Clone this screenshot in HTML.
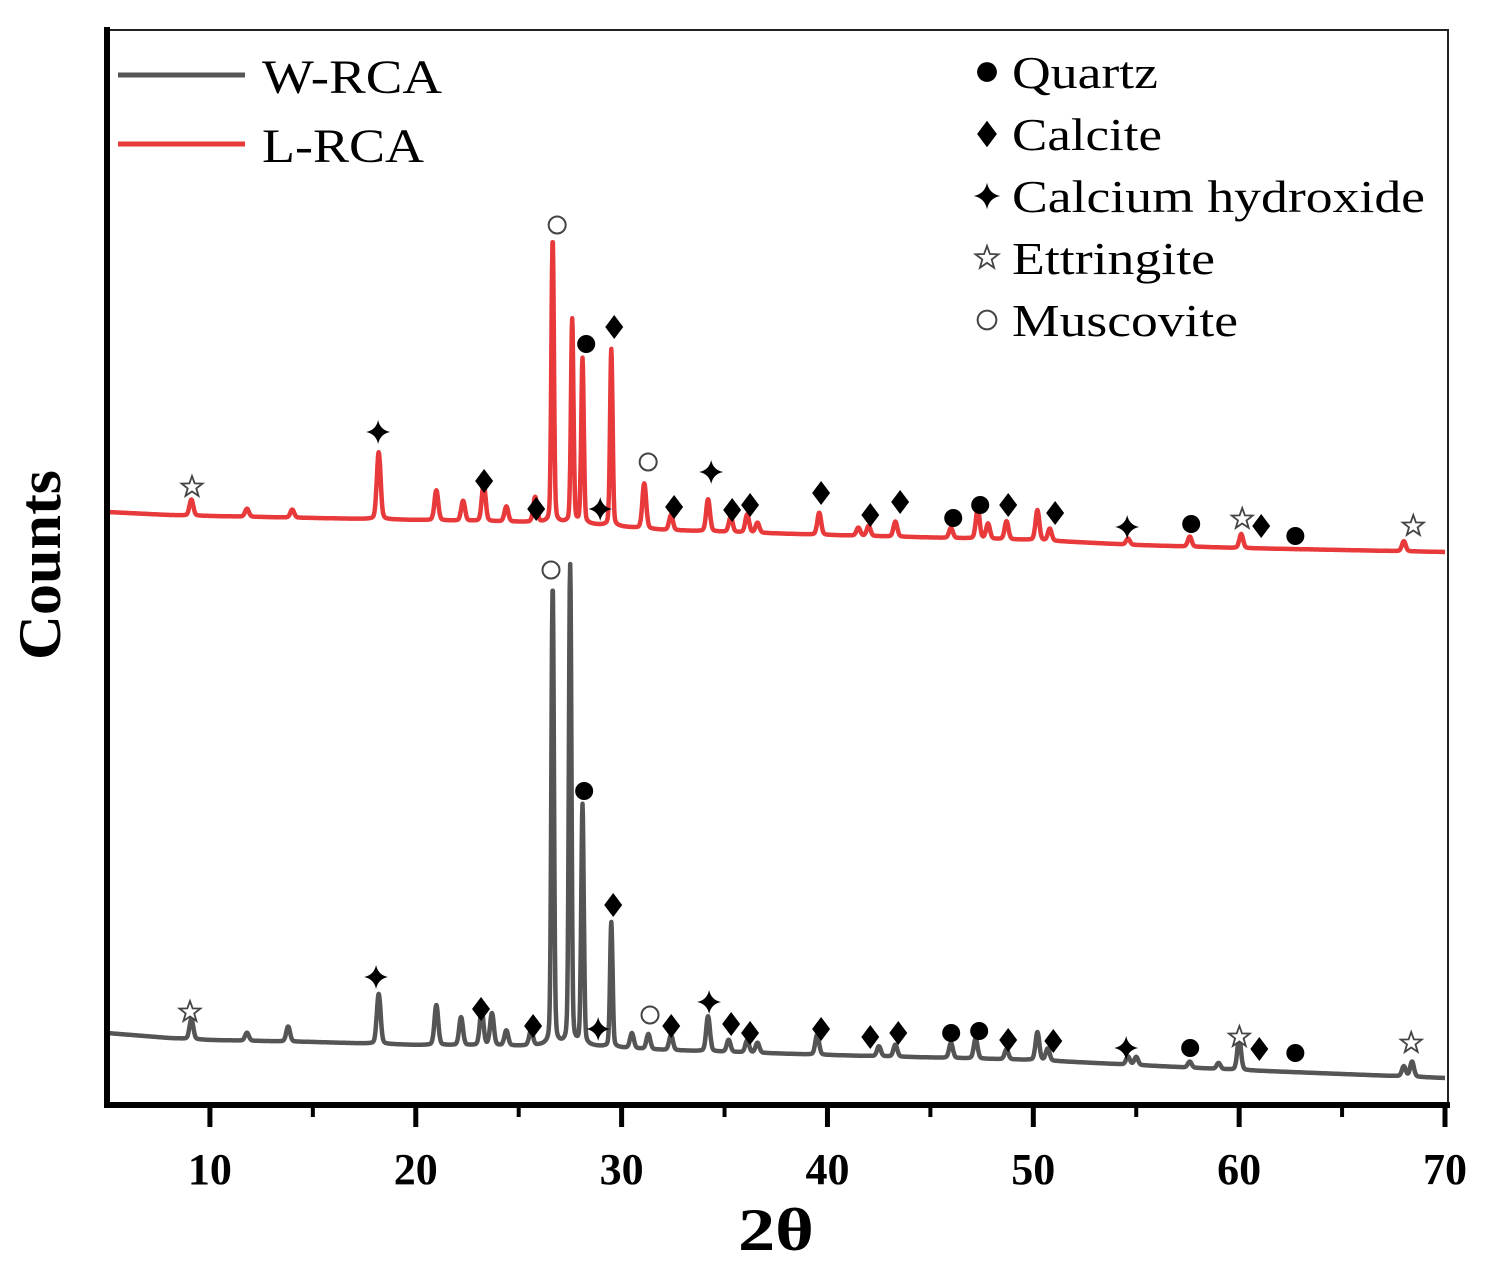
<!DOCTYPE html>
<html><head><meta charset="utf-8"><style>
html,body{margin:0;padding:0;background:#fff;}
svg{display:block;font-family:"Liberation Serif",serif;}
</style></head><body>
<svg id="chart" width="1486" height="1271" viewBox="0 0 1486 1271" xmlns="http://www.w3.org/2000/svg">
<g id="plot"></g>
<g id="marks"></g>
<g id="axes"></g>
<g>
 <line x1="118" y1="75" x2="245" y2="75" stroke="#555" stroke-width="5"/>
 <text x="262" y="93" font-size="48" textLength="180" lengthAdjust="spacingAndGlyphs">W-RCA</text>
 <line x1="118" y1="144" x2="245" y2="144" stroke="#e8393b" stroke-width="5"/>
 <text x="262" y="162" font-size="48" textLength="162" lengthAdjust="spacingAndGlyphs">L-RCA</text>
</g>
<g id="plegend"></g>
<text transform="translate(60,565) rotate(-90)" text-anchor="middle" font-size="60" font-weight="bold" textLength="190" lengthAdjust="spacingAndGlyphs">Counts</text>
<text x="776" y="1250" text-anchor="middle" font-size="60" font-weight="bold" textLength="76" lengthAdjust="spacingAndGlyphs">2θ</text>
</svg>
<script>
const xTicks=[10,20,30,40,50,60,70];
const minorTicks=[15,25,35,45,55,65];
const redBaseX=[5,8,10,15,20,25,28,32,40,50,55,60,70];
const redBaseC=[593,590,589,587,585,583,581,575,570,565,560,557,553];
const grayBaseX=[5,8,10,15,20,25,28,32,40,50,55,60,70];
const grayBaseC=[72,67,65,63,60,59,59,55,50,45,40,35,27];
const redPeakX=[9.1,11.8,14,18.2,21,22.3,23.3,24.4,25.8,26.65,27.6,28.1,29.5,31.1,32.4,34.2,35.3,36.1,36.6,39.6,41.5,42,43.3,46,47.3,47.8,48.7,50.2,50.8,54.6,57.6,60.1,68];
const redPeakH=[16,8,8,67,30,20,38,15,25,284,204,165,177,45,15,32,15,18,10,22,8,10,15,10,30,15,18,30,12,6,10,14,10];
const grayPeakX=[9.1,11.8,13.8,18.2,21,22.2,23.2,23.7,24.4,25.6,26.65,27.5,28.1,29.5,30.5,31.3,32.4,34.2,35.2,36.1,36.6,39.5,42.5,43.3,46,47.2,48.7,50.2,50.7,54.6,55,57.6,59,60,68,68.4];
const grayPeakH=[20,8,15,50,40,28,35,32,15,15,460,480,240,125,15,15,15,35,12,12,10,20,10,12,15,20,10,28,12,8,8,6,6,32,10,15];
const redMarkType=["star","cross","diamond","diamond","ocircle","diamond","circle","cross","ocircle","diamond","cross","diamond","diamond","diamond","diamond","diamond","circle","circle","diamond","diamond","cross","circle","star","diamond","circle","star"];
const redMarkX=[9.13,18.17,23.32,25.85,26.87,29.64,28.28,28.96,31.29,32.55,34.35,35.37,36.24,39.69,42.08,43.53,46.11,47.42,48.78,51.06,54.56,57.67,60.15,61.07,62.73,68.46];
const redMarkC=[618,673,624,596,880,778,761,596,643,598,633,595,600,612,590,603,587,600,600,592,578,581,586,579,569,579];
const grayMarkType=["star","cross","diamond","diamond","ocircle","circle","diamond","cross","ocircle","diamond","cross","diamond","diamond","diamond","diamond","diamond","circle","circle","diamond","diamond","cross","circle","star","diamond","circle","star"];
const grayMarkX=[9.03,18.07,23.17,25.70,26.57,28.18,29.59,28.86,31.38,32.41,34.25,35.32,36.24,39.69,42.08,43.44,46.01,47.37,48.78,50.97,54.51,57.62,60.01,60.98,62.73,68.36];
const grayMarkC=[93,128,96,79,535,314,200,76,90,79,103,81,72,76,68,72,72,74,65,64,57,57,68,56,52,62];
const legendTypes=["circle","diamond","cross","star","ocircle"];
const legendLabels=["Quartz","Calcite","Calcium hydroxide","Ettringite","Muscovite"];
const legendWidths=[146,150,413,203,226];

const X0=107,X1=1445,YB=1105;
const sx=v=>X0+(v-5)*(X1-X0)/65;
const sy=c=>YB-c;
const NS="http://www.w3.org/2000/svg";
function mk(tag,attrs,parent){const e=document.createElementNS(NS,tag);for(const k in attrs)e.setAttribute(k,attrs[k]);parent.appendChild(e);return e;}
function interp(xs,cs,v){for(let i=0;i<xs.length-1;i++){if(v<=xs[i+1]){const t=(v-xs[i])/(xs[i+1]-xs[i]);return cs[i]+t*(cs[i+1]-cs[i]);}}return cs[cs.length-1];}
function spectrum(bx,bc,px,ph){let d="";for(let v=5;v<=70.0001;v+=0.02){let c=interp(bx,bc,v);for(let i=0;i<px.length;i++){const w=ph[i]>100?0.06:0.09;const z=(v-px[i])/w;c+=ph[i]*(0.9*Math.exp(-0.5*z*z)+0.1/(1+z*z/4));}d+=(d?"L":"M")+sx(v).toFixed(1)+","+sy(c).toFixed(1);}return d;}
const plot=document.getElementById('plot');
const pr=mk('path',{d:spectrum(redBaseX,redBaseC,redPeakX,redPeakH),fill:"none",stroke:"#e8393b","stroke-width":4.5,"stroke-linejoin":"round"},plot);


const pg=mk('path',{d:spectrum(grayBaseX,grayBaseC,grayPeakX,grayPeakH),fill:"none",stroke:"#555","stroke-width":4.5,"stroke-linejoin":"round"},plot);



function symbol(type,x,y,parent,s){s=s||1;let e;
 if(type==="circle")e=mk('circle',{cx:x,cy:y,r:9*s,fill:"#000"},parent);
 else if(type==="ocircle")e=mk('circle',{cx:x,cy:y,r:8.5*s,fill:"#fff",stroke:"#444","stroke-width":2},parent);
 else if(type==="diamond")e=mk('path',{d:`M${x},${y-12*s}L${x+9*s},${y}L${x},${y+12*s}L${x-9*s},${y}Z`,fill:"#000"},parent);
 else if(type==="cross")e=mk('path',{d:`M${x},${y-12*s}Q${x+2*s},${y-2*s} ${x+12*s},${y}Q${x+2*s},${y+2*s} ${x},${y+12*s}Q${x-2*s},${y+2*s} ${x-12*s},${y}Q${x-2*s},${y-2*s} ${x},${y-12*s}Z`,fill:"#000"},parent);
 else {let p="";for(let i=0;i<10;i++){const r=i%2?4.5*s:11*s;const a=-Math.PI/2+i*Math.PI/5;p+=(i?"L":"M")+(x+r*Math.cos(a)).toFixed(1)+","+(y+r*Math.sin(a)).toFixed(1);}e=mk('path',{d:p+"Z",fill:"#fff",stroke:"#444","stroke-width":1.8},parent);}
 return e;}
const marks=document.getElementById('marks');
redMarkType.forEach((t,i)=>{const e=symbol(t,sx(redMarkX[i]),sy(redMarkC[i]),marks);
 
 });
grayMarkType.forEach((t,i)=>{const e=symbol(t,sx(grayMarkX[i]),sy(grayMarkC[i]),marks);
 
 });

const pl=document.getElementById('plegend');
legendTypes.forEach((t,i)=>{const y=72+i*62;const e=symbol(t,987,y,pl,1.1);
 
 
 const tx=mk('text',{x:1012,y:y+16,"font-size":46,textLength:legendWidths[i],lengthAdjust:"spacingAndGlyphs"},pl);tx.textContent=legendLabels[i];
 
 });

const ax=document.getElementById('axes');
const frame=mk('path',{d:`M${X0},30H1448V${YB}`,fill:"none",stroke:"#222","stroke-width":2},ax);


const ya=mk('line',{x1:X0,y1:27,x2:X0,y2:YB+2,stroke:"#000","stroke-width":6},ax);


const xa=mk('line',{x1:X0-3,y1:YB,x2:1450,y2:YB,stroke:"#000","stroke-width":6},ax);


xTicks.forEach(v=>{const t=mk('line',{x1:sx(v),y1:YB,x2:sx(v),y2:YB+22,stroke:"#000","stroke-width":5},ax);
 
 
 const l=mk('text',{x:sx(v),y:1184,"text-anchor":"middle","font-size":44,"font-weight":"bold"},ax);l.textContent=v;
 
 });
minorTicks.forEach(v=>{const t=mk('line',{x1:sx(v),y1:YB,x2:sx(v),y2:YB+12,stroke:"#000","stroke-width":4},ax);
 
 });
</script>
</body></html>
